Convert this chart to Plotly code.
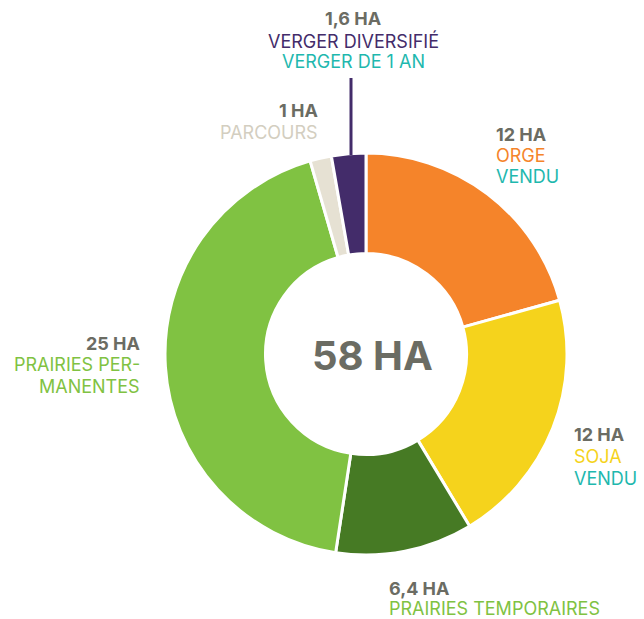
import plotly.graph_objects as go

W, H = 644, 619

labels = ["Orge", "Soja", "Prairies temporaires", "Prairies permanentes", "Parcours", "Verger diversifié"]
values = [12, 12, 6.4, 25, 1, 1.6]
colors = ["#F5842A", "#F5D31C", "#467A24", "#80C242", "#E6E1D3", "#432C6A"]
value_texts = ["12 HA", "12 HA", "6,4 HA", "25 HA", "1 HA", "1,6 HA"]
total_text = "58 HA"

GREY = "#6B6C63"
TEAL = "#1EB8AE"
FONT = "Inter"
FS = 18

# donut geometry (pixels)
cx, cy, R = 366, 354, 201

fig = go.Figure(go.Pie(
    labels=labels,
    values=values,
    marker=dict(colors=colors, line=dict(color="white", width=3)),
    hole=0.5,
    sort=False,
    direction="clockwise",
    rotation=0,
    textinfo="none",
    hoverinfo="label+value",
    showlegend=False,
    domain=dict(x=[(cx - R) / W, (cx + R) / W], y=[(H - cy - R) / H, (H - cy + R) / H]),
))


def px(x):
    return x / W


def py(y):
    return 1 - y / H


def block(x, ys, lines, xanchor):
    for y, (t, c, bold) in zip(ys, lines):
        txt = f"<b>{t}</b>" if bold else t
        fig.add_annotation(x=px(x), y=py(y), xref="paper", yref="paper", text=txt,
                           showarrow=False, xanchor=xanchor, yanchor="middle",
                           font=dict(family=FONT, size=FS, color=c))


block(353, [19, 41.5, 61], [(value_texts[5], GREY, True), ("VERGER DIVERSIFIÉ", "#432C6A", False),
                            ("VERGER DE 1 AN", TEAL, False)], "center")
block(320, [110, 132], [(value_texts[4], GREY, True), ("PARCOURS", "#D3CEC0", False)], "right")
block(494, [134, 155, 176], [(value_texts[0], GREY, True), ("ORGE", "#F5842A", False),
                             ("VENDU", TEAL, False)], "left")
block(142, [343.5, 364.5, 386], [(value_texts[3], GREY, True), ("PRAIRIES PER-", "#80C242", False),
                                 ("MANENTES", "#80C242", False)], "right")
block(572, [434, 456, 478], [(value_texts[1], GREY, True), ("SOJA", "#F5D31C", False),
                             ("VENDU", TEAL, False)], "left")
block(387, [588.5, 608.5], [(value_texts[2], GREY, True), ("PRAIRIES TEMPORAIRES", "#80C242", False)], "left")

fig.add_annotation(x=px(372), y=py(355), xref="paper", yref="paper", text=f"<b>{total_text}</b>",
                   showarrow=False, xanchor="center", yanchor="middle",
                   font=dict(family=FONT, size=40, color=GREY))

# leader line for verger
fig.add_shape(type="line", xref="paper", yref="paper", x0=px(351), x1=px(351), y0=py(155), y1=py(78),
              line=dict(color="#432C6A", width=3))

fig.update_layout(width=W, height=H, margin=dict(l=0, r=0, t=0, b=0),
                  paper_bgcolor="white", plot_bgcolor="white")

fig.write_html("out.html")
